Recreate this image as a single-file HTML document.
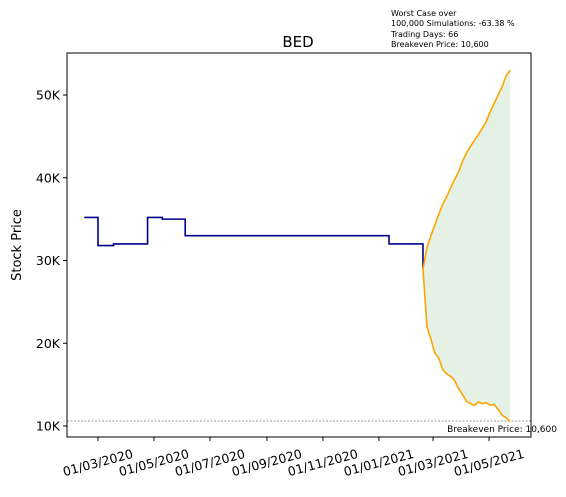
<!DOCTYPE html>
<html><head><meta charset="utf-8"><style>
body{margin:0;background:#fff;font-family:"Liberation Sans","DejaVu Sans",sans-serif}
svg text{font-family:"DejaVu Sans","Liberation Sans",sans-serif}
</style></head><body>
<svg id="c" width="566" height="492" xmlns="http://www.w3.org/2000/svg">
<text x="391" y="16" font-size="8">Worst Case over</text>
<text x="391" y="26" font-size="8">100,000 Simulations: -63.38 %</text>
<text x="391" y="37" font-size="8">Trading Days: 66</text>
<text x="391" y="47" font-size="8">Breakeven Price: 10,600</text>
<text x="298" y="47" font-size="15" text-anchor="middle">BED</text>
<text transform="translate(21,245) rotate(-90)" font-size="13" text-anchor="middle">Stock Price</text>
<g id="plot"></g>
<rect x="67" y="53" width="464" height="384" fill="none" stroke="#000" stroke-width="1"/>
</svg>
<script>
const histDates=["2020-02-15","2020-02-27","2020-03-01","2020-03-18","2020-04-24","2020-05-10","2020-06-04","2021-01-12","2021-02-15","2021-02-18"];
const histValues=[35.2,35.2,31.8,32,35.2,35,33,32,32,29];
const fcStart="2021-02-18";
const fcDays=[0,3,6,9,12,15,18,21,24,27,30,33,36,39,42,45,48,51,54,57,60,63,66];
const fcUpper=[29,31.5,33,34.3,35.6,36.8,37.7,38.8,39.8,40.7,42,43,43.8,44.5,45.2,46,46.8,48,49,50,51,52.3,53];
const fcLower=[29,22,20.5,18.8,18.2,16.8,16.3,16,15.5,14.5,13.8,13,12.7,12.5,12.9,12.7,12.8,12.5,12.6,12,11.3,11,10.5];
const breakeven=10.6;
const yTicks=[10,20,30,40,50];
const xTicks=["2020-03-01","2020-05-01","2020-07-01","2020-09-01","2020-11-01","2021-01-01","2021-03-01","2021-05-01"];
const NS="http://www.w3.org/2000/svg";
const g=document.getElementById('plot');
const day0=Date.parse("2020-03-01");
const xd=d=>98+(Date.parse(d)-day0)/864e5*0.918;
const y=v=>426-(v-10)*8.275;
const x0=xd(fcStart), x1=510;
const xf=t=>x0+(t/66)*(x1-x0);
function el(t,a){const e=document.createElementNS(NS,t);for(const k in a)e.setAttribute(k,a[k]);g.appendChild(e);return e;}
let pts=fcDays.map((t,i)=>xf(t)+","+y(fcUpper[i]));
pts=pts.concat(fcDays.map((t,i)=>xf(t)+","+y(fcLower[i])).reverse());
let e=el('polygon',{points:pts.join(" "),fill:"#e4f1e4"});


e=el('line',{x1:67,x2:531,y1:y(breakeven),y2:y(breakeven),stroke:"#777",'stroke-width':0.7,'stroke-dasharray':"2,1.5"});


e=el('text',{x:557,y:y(breakeven)+11,'font-size':9,'text-anchor':'end'});e.textContent="Breakeven Price: 10,600";


let d="";histDates.forEach((dt,i)=>{const X=xd(dt),Y=y(histValues[i]);if(i==0)d+="M"+X+","+Y;else d+="H"+X+"V"+Y;});
e=el('path',{d:d,fill:"none",stroke:"#00008b",'stroke-width':1.6});


[fcUpper,fcLower].forEach((arr,k)=>{
 const p=el('polyline',{points:fcDays.map((t,i)=>xf(t)+","+y(arr[i])).join(" "),fill:"none",stroke:"#ffa500",'stroke-width':1.6});
 
 
});
yTicks.forEach(v=>{
 const t=el('line',{x1:63,x2:67,y1:y(v),y2:y(v),stroke:"#000"});
 
 
 const l=el('text',{x:60,y:y(v)+4.5,'font-size':12.5,'text-anchor':'end'});l.textContent=v+"K";
 
 
});
xTicks.forEach(dt=>{
 const X=xd(dt);
 const t=el('line',{x1:X,x2:X,y1:437,y2:441,stroke:"#000"});
 
 
 const p=dt.split("-");
 const l=el('text',{x:X,y:467,'font-size':12.5,'text-anchor':'middle',transform:`rotate(-15 ${X} 463)`});
 l.textContent=p[2]+"/"+p[1]+"/"+p[0];
 
 
});
</script>
</body></html>
